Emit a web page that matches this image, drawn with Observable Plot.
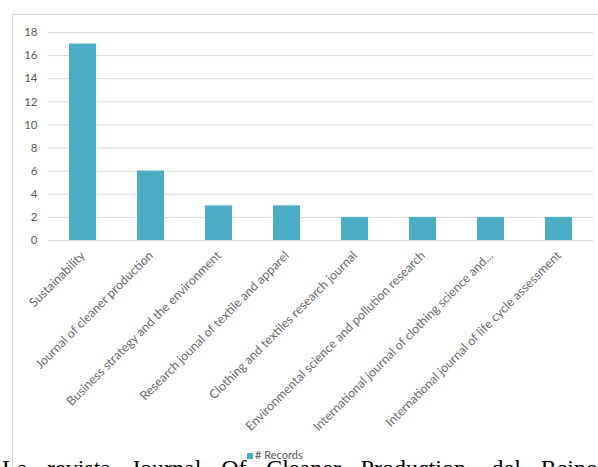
<!DOCTYPE html>
<html>
<head>
<meta charset="utf-8">
<script src="https://cdn.jsdelivr.net/npm/d3@7"></script>
<script src="https://cdn.jsdelivr.net/npm/@observablehq/plot@0.6"></script>
<style>
  html, body { margin: 0; padding: 0; background: #fff; }
  #wrap { position: relative; width: 598px; height: 467px; overflow: hidden; background: #fff; }
  #frame { position: absolute; left: 12px; top: 14px; width: 600px; height: 500px; border: 1px solid #d9d9d9; box-sizing: border-box; }
  #chart { position: absolute; left: 0; top: 0; }
  #legend { position: absolute; left: 247px; top: 448px; font: 11px Lato, "Open Sans", sans-serif; color: #595959; white-space: nowrap; }
  #legend .sw { display: inline-block; width: 6px; height: 6px; background: #4bacc6; margin-right: 2px; }
  #caption { position: absolute; left: 2px; top: 454px; width: 596px; font: 24px "Liberation Serif", "Times New Roman", serif; color: #000; text-align: justify; text-align-last: justify; white-space: nowrap; line-height: 28px; }
</style>
</head>
<body>
<div id="wrap">
  <div id="frame"></div>
  <div id="chart"></div>
  <div id="caption">La revista Journal Of Cleaner Production, del Reino</div>
  <div id="legend"><span class="sw"></span># Records</div>
</div>
<script>
const journals = [
  "Sustainability",
  "Journal of cleaner production",
  "Business strategy and the environment",
  "Research jounal of textile and apparel",
  "Clothing and textiles research journal",
  "Environmental science and pollution research",
  "International journal of clothing science and...",
  "International journal of life cycle assessment"
];
const records = [17, 6, 3, 3, 2, 2, 2, 2];
const yTicks = [0, 2, 4, 6, 8, 10, 12, 14, 16, 18];

const data = journals.map((j, i) => ({journal: j, records: records[i]}));

const chart = Plot.plot({
  width: 598,
  height: 467,
  marginLeft: 48,
  marginRight: 5,
  marginTop: 32,
  marginBottom: 227,
  style: {fontFamily: "Lato, 'Open Sans', sans-serif", fontSize: "11.5px", color: "#6b6b6b", background: "transparent"},
  x: {domain: journals, paddingInner: 0.6, paddingOuter: 0.3, label: null},
  y: {domain: [0, 18], ticks: yTicks, label: null},
  marks: [
    Plot.gridY(yTicks, {stroke: "#d9d9d9", strokeOpacity: 1, strokeWidth: 1}),
    Plot.barY(data, {x: "journal", y: "records", fill: "#4bacc6"}),
    Plot.axisY({ticks: yTicks, tickSize: 0, tickPadding: 11, label: null, fill: "#595959"}),
    Plot.axisX({tickSize: 0, tickPadding: 13, tickRotate: -45, label: null, fill: "#6b6b6b", fontSize: 12.5})
  ]
});
document.getElementById("chart").appendChild(chart);
</script>
</body>
</html>
